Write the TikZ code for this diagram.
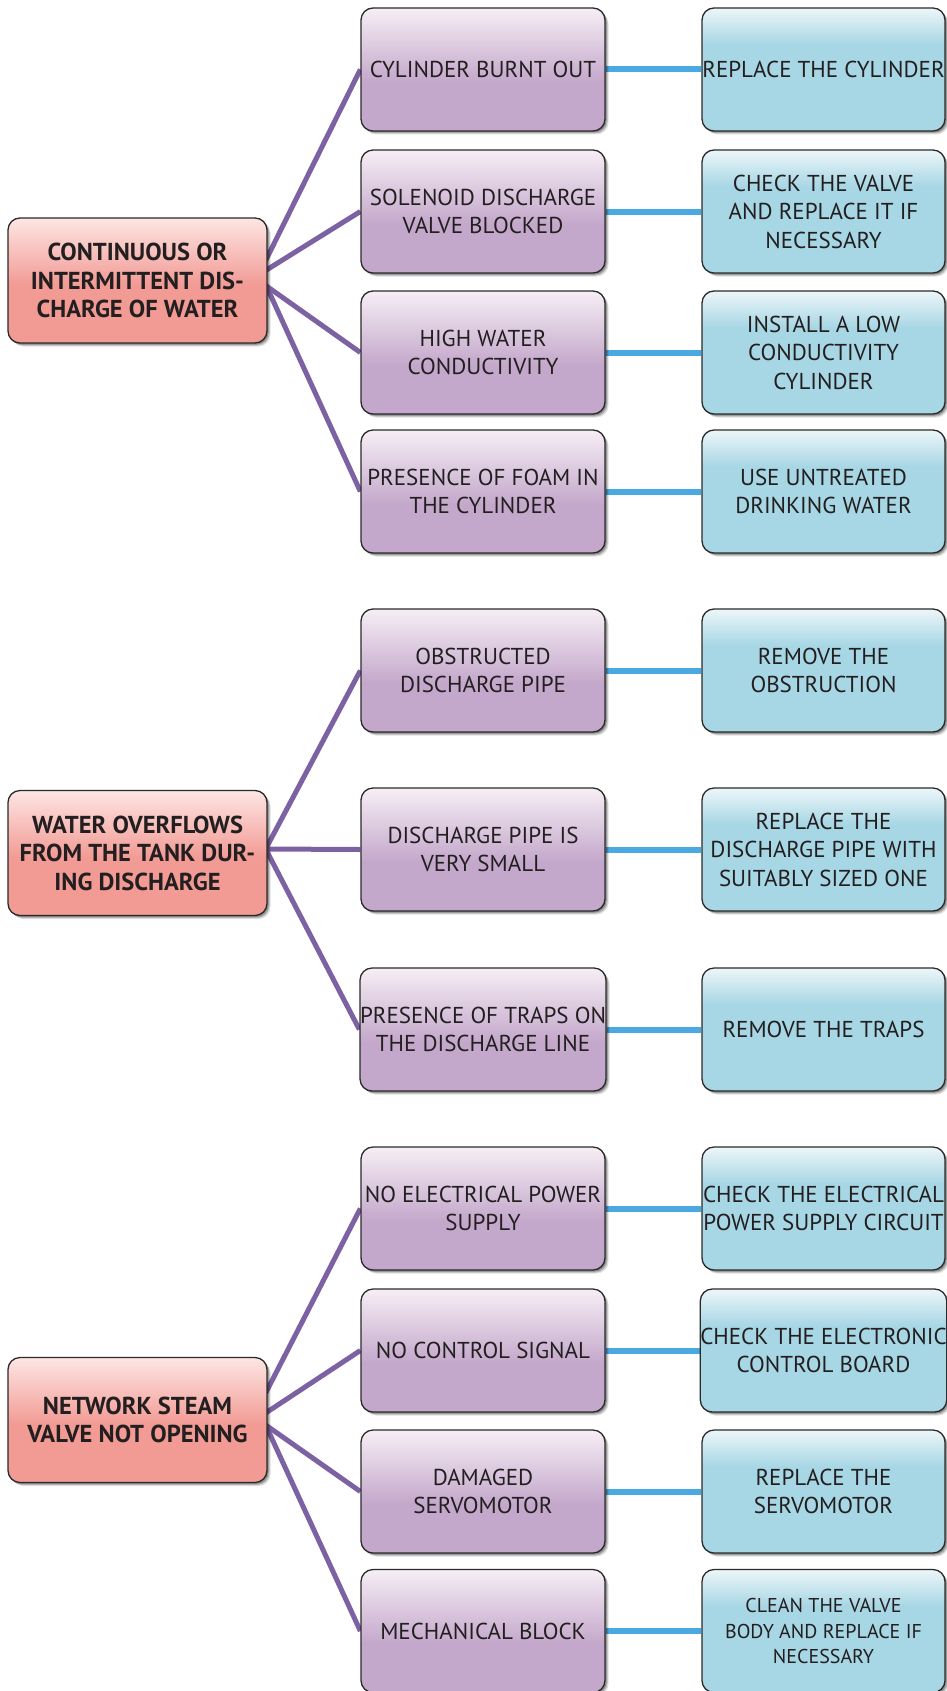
\documentclass[tikz,border=0pt]{standalone}
\usepackage{fontspec}
\setmainfont{PT Sans}
\usetikzlibrary{shadows,backgrounds,calc}

% palette
\definecolor{ink}{HTML}{231F20}
\definecolor{edge}{HTML}{2A2A2A}
\definecolor{lbase}{HTML}{F29A94}
\definecolor{ltop}{HTML}{FDE6E4}
\definecolor{mbase}{HTML}{C4A8CB}
\definecolor{mtop}{HTML}{F6EEF5}
\definecolor{rbase}{HTML}{A7D6E4}
\definecolor{rtop}{HTML}{ECF6F9}
\definecolor{plinkc}{HTML}{7D62A3}
\definecolor{blinkc}{HTML}{4BA9E2}

% box fills: light band at the top fading into the base colour
\pgfdeclareverticalshading{leftshade}{100bp}{color(0bp)=(lbase); color(48bp)=(lbase); color(75bp)=(ltop); color(100bp)=(ltop)}
\pgfdeclareverticalshading{midshade}{100bp}{color(0bp)=(mbase); color(45bp)=(mbase); color(75bp)=(mtop); color(100bp)=(mtop)}
\pgfdeclareverticalshading{rightshade}{100bp}{color(0bp)=(rbase); color(60bp)=(rbase); color(75bp)=(rtop); color(100bp)=(rtop)}

\tikzset{
  boxbase/.style={rectangle, rounded corners=12pt, draw=edge, line width=1.3pt,
    align=center, text=ink, inner sep=0pt,
    general shadow={shadow xshift=3.5pt, shadow yshift=-3.5pt, fill=black, opacity=0.12},
    general shadow={shadow xshift=2.5pt, shadow yshift=-2.5pt, fill=black, opacity=0.18},
    general shadow={shadow xshift=1.5pt, shadow yshift=-1.5pt, fill=black, opacity=0.25}},
  lbox/.style={boxbase, shading=leftshade, minimum width=259pt, minimum height=125pt,
    font=\bfseries\fontsize{24.5}{28.5}\selectfont},
  mbox/.style={boxbase, shading=midshade, minimum width=244pt, minimum height=123pt,
    font=\fontsize{23}{28.5}\selectfont},
  rbox/.style={boxbase, shading=rightshade, minimum width=243pt, minimum height=123pt,
    font=\fontsize{23}{28.5}\selectfont},
  plink/.style={draw=plinkc, line width=5pt},
  blink/.style={draw=blinkc, line width=6pt}
}

\begin{document}
\begin{tikzpicture}[x=1pt,y=-1pt]
\useasboundingbox (0,0) rectangle (946,1691);

% problems
\node[lbox] (c1) at (137.5,280.5) {CONTINUOUS OR\\INTERMITTENT DIS-\\CHARGE OF WATER};
\node[lbox] (c2) at (137.5,853) {WATER OVERFLOWS\\FROM THE TANK DUR-\\ING DISCHARGE};
\node[lbox] (c3) at (137.5,1420) {NETWORK STEAM\\VALVE NOT OPENING};

% causes
\node[mbox] (m1)  at (483,69.5)   {CYLINDER BURNT OUT};
\node[mbox] (m2)  at (483,211.5)  {SOLENOID DISCHARGE\\VALVE BLOCKED};
\node[mbox] (m3)  at (483,352.5)  {HIGH WATER\\CONDUCTIVITY};
\node[mbox] (m4)  at (483,491.5)  {PRESENCE OF FOAM IN\\THE CYLINDER};
\node[mbox] (m5)  at (483,670.5)  {OBSTRUCTED\\DISCHARGE PIPE};
\node[mbox] (m6)  at (483,849.5)  {DISCHARGE PIPE IS\\VERY SMALL};
\node[mbox] (m7)  at (483,1029.5) {PRESENCE OF TRAPS ON\\THE DISCHARGE LINE};
\node[mbox] (m8)  at (483,1208.5) {NO ELECTRICAL POWER\\SUPPLY};
\node[mbox] (m9)  at (483,1350.5) {NO CONTROL SIGNAL};
\node[mbox] (m10) at (483,1491.5) {DAMAGED\\SERVOMOTOR};
\node[mbox] (m11) at (483,1631)   {MECHANICAL BLOCK};

% remedies
\node[rbox] (r1)  at (823.5,69.5)   {REPLACE THE CYLINDER};
\node[rbox] (r2)  at (823.5,211.5)  {CHECK THE VALVE\\AND REPLACE IT IF\\NECESSARY};
\node[rbox] (r3)  at (823.5,352.5)  {INSTALL A LOW\\CONDUCTIVITY\\CYLINDER};
\node[rbox] (r4)  at (823.5,491.5)  {USE UNTREATED\\DRINKING WATER};
\node[rbox] (r5)  at (823.5,670.5)  {REMOVE THE\\OBSTRUCTION};
\node[rbox] (r6)  at (823.5,849.5)  {REPLACE THE\\DISCHARGE PIPE WITH\\SUITABLY SIZED ONE};
\node[rbox] (r7)  at (823.5,1029.5) {REMOVE THE TRAPS};
\node[rbox] (r8)  at (823.5,1208.5) {CHECK THE ELECTRICAL\\POWER SUPPLY CIRCUIT};
\node[rbox] (r9)  at (823.5,1350.5) {CHECK THE ELECTRONIC\\CONTROL BOARD};
\node[rbox] (r10) at (823.5,1491.5) {REPLACE THE\\SERVOMOTOR};
\node[rbox, font=\fontsize{20}{25.5}\selectfont] (r11) at (823.5,1631) {CLEAN THE VALVE\\BODY AND REPLACE IF\\NECESSARY};

\begin{scope}[on background layer]
  % problem -> cause
  \draw[plink] ($(c1.east)+(-2,-20)$) -- (m1.west);
  \draw[plink] ($(c1.east)+(-2,-10)$) -- (m2.west);
  \draw[plink] ($(c1.east)+(-2,5)$)   -- (m3.west);
  \draw[plink] ($(c1.east)+(-2,4)$)   -- (m4.west);
  \draw[plink] ($(c2.east)+(-2,-4)$)  -- (m5.west);
  \draw[plink] ($(c2.east)+(-2,-4)$)  -- (m6.west);
  \draw[plink] ($(c2.east)+(-2,-4)$)  -- (m7.west);
  \draw[plink] ($(c3.east)+(-2,-27)$) -- (m8.west);
  \draw[plink] ($(c3.east)+(-2,-7)$)  -- (m9.west);
  \draw[plink] ($(c3.east)+(-2,5)$)   -- (m10.west);
  \draw[plink] ($(c3.east)+(-2,5)$)   -- (m11.west);
  % cause -> remedy
  \foreach \i in {1,...,11} { \draw[blink] (m\i.east) -- (r\i.west); }
\end{scope}
\end{tikzpicture}
\end{document}
